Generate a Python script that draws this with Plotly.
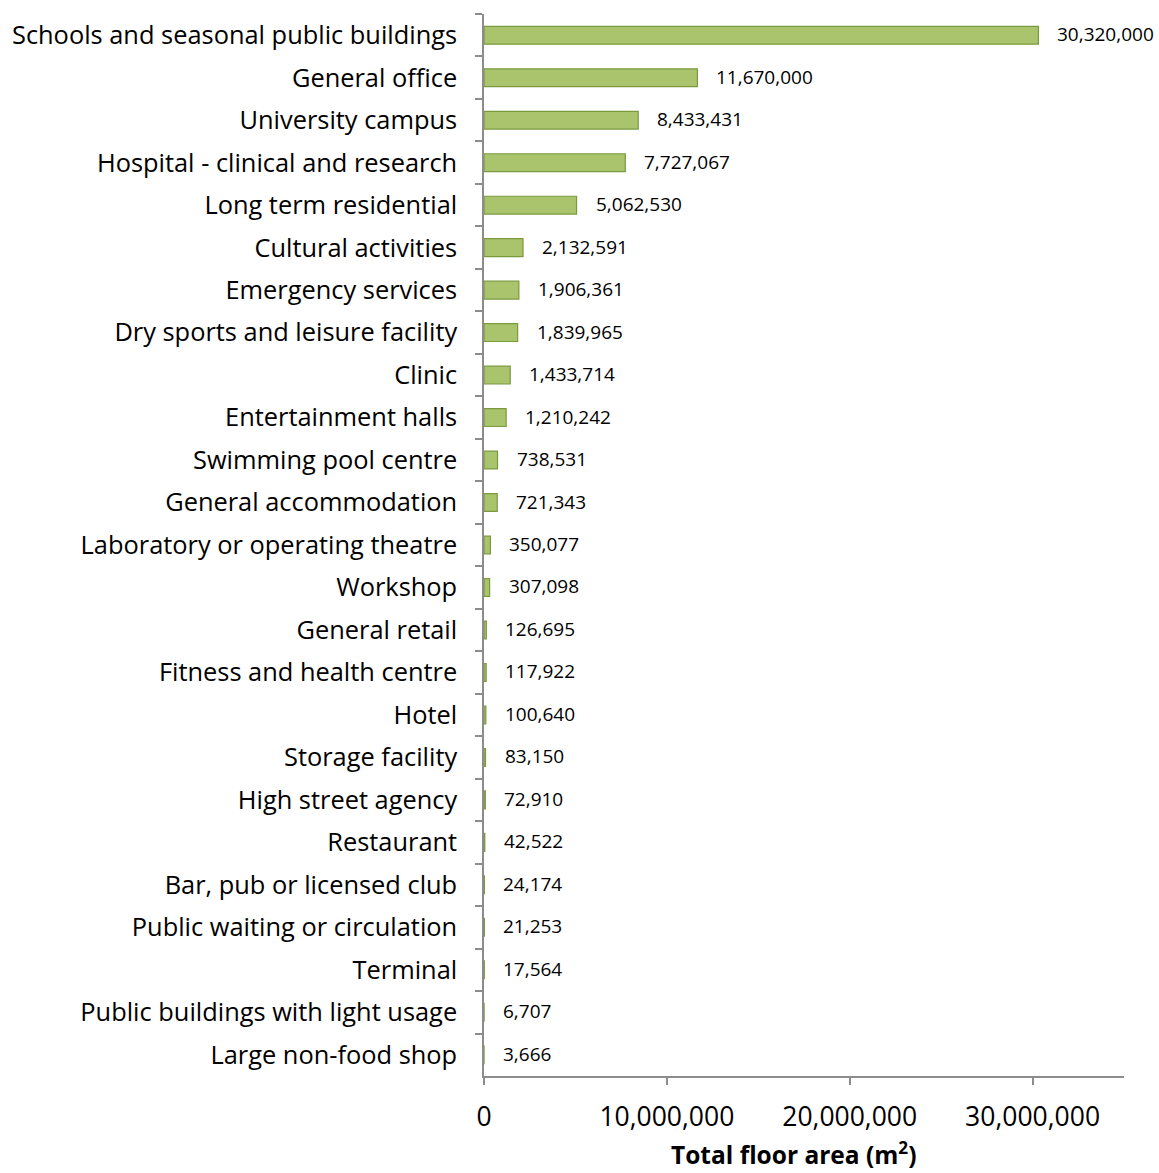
import plotly.graph_objects as go

categories = [
    "Schools and seasonal public buildings",
    "General office",
    "University campus",
    "Hospital - clinical and research",
    "Long term residential",
    "Cultural activities",
    "Emergency services",
    "Dry sports and leisure facility",
    "Clinic",
    "Entertainment halls",
    "Swimming pool centre",
    "General accommodation",
    "Laboratory or operating theatre",
    "Workshop",
    "General retail",
    "Fitness and health centre",
    "Hotel",
    "Storage facility",
    "High street agency",
    "Restaurant",
    "Bar, pub or licensed club",
    "Public waiting or circulation",
    "Terminal",
    "Public buildings with light usage",
    "Large non-food shop",
]

floor_area = [
    30320000, 11670000, 8433431, 7727067, 5062530, 2132591, 1906361,
    1839965, 1433714, 1210242, 738531, 721343, 350077, 307098, 126695,
    117922, 100640, 83150, 72910, 42522, 24174, 21253, 17564, 6707, 3666,
]

x_ticks = [0, 10000000, 20000000, 30000000]
x_tick_labels = ["0", "10,000,000", "20,000,000", "30,000,000"]

FONT = "'Open Sans', Lato, sans-serif"
AXIS_GREY = "#8c8c8c"

fig = go.Figure(
    go.Bar(
        x=floor_area,
        y=categories,
        orientation="h",
        marker=dict(color="#a9c46d", line=dict(color="#7b9a3e", width=1.2)),
        hoverinfo="x+y",
    )
)

# value labels just past the end of each bar
for cat, val in zip(categories, floor_area):
    fig.add_annotation(
        x=val, y=cat, text=f"{val:,}", showarrow=False,
        xanchor="left", xshift=17, yshift=1,
        font=dict(family=FONT, size=19, color="#000"),
    )

# x-axis title, placed as a paper annotation below the tick labels
fig.add_annotation(
    x=0.483, y=-0.0905, xref="paper", yref="paper",
    text="<b>Total floor area (m<sup>2</sup>)</b>", showarrow=False,
    xanchor="center", yanchor="bottom", borderpad=0,
    font=dict(family=FONT, size=24.5, color="#000"),
)

fig.update_layout(
    width=1159, height=1173,
    margin=dict(l=484, r=35, t=14, b=97, autoexpand=False),
    plot_bgcolor="white", paper_bgcolor="white",
    bargap=0.58,
    showlegend=False,
    font=dict(family=FONT, color="#000"),
)

fig.update_yaxes(
    categoryorder="array", categoryarray=categories, autorange="reversed",
    showline=True, linecolor=AXIS_GREY, linewidth=1.5,
    ticks="outside", ticklen=7, tickcolor=AXIS_GREY, tickwidth=1.5,
    tickson="boundaries", ticklabelstandoff=20,
    showgrid=False, zeroline=False, automargin=False,
    tickfont=dict(family=FONT, size=25.4, color="#000"),
)

fig.update_xaxes(
    range=[0, 35000000],
    tickvals=x_ticks, ticktext=x_tick_labels,
    showline=True, linecolor=AXIS_GREY, linewidth=1.5,
    ticks="outside", ticklen=7, tickcolor=AXIS_GREY, tickwidth=1.5,
    showgrid=False, zeroline=False, automargin=False,
    tickfont=dict(family=FONT, size=26.5, color="#000"),
    ticklabelstandoff=9,
)

fig.write_html("out.html")
